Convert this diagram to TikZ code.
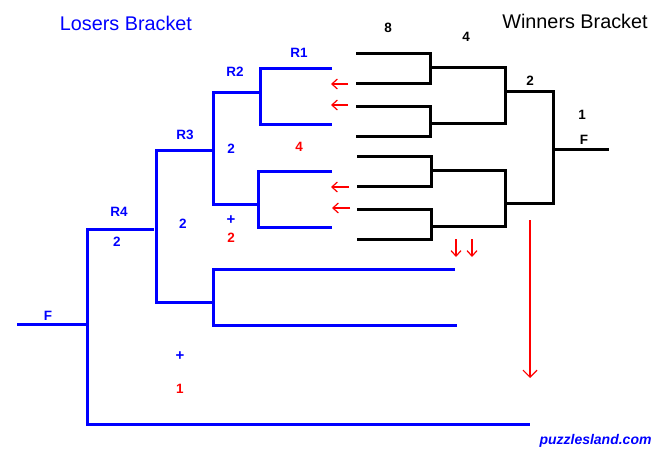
\documentclass[tikz,border=0pt]{standalone}
\usepackage{fontspec}
\setmainfont{Liberation Sans}
\usetikzlibrary{arrows.meta}
\tikzset{
  x=1pt,y=-1pt,
  win/.style={draw=black,line width=3pt,line cap=butt,line join=miter},
  los/.style={draw=blue,line width=3pt,line cap=butt,line join=miter},
  redarrow/.style={draw=red,line width=1.5pt,-{Straight Barb[length=5.5pt,width=10pt,line width=1.2pt]}},
  bigarrow/.style={draw=red,line width=1.5pt,-{Straight Barb[length=7pt,width=14pt,line width=1.2pt]}},
  lbl/.style={font=\bfseries\fontsize{13.5}{13.5}\selectfont,inner sep=0pt,text=#1,yshift=-0.7pt},
  lbl/.default=blue,
  plus/.style={font=\bfseries\fontsize{15}{15}\selectfont,inner sep=0pt,text=blue,yshift=-0.7pt},
  title/.style={font=\fontsize{19.8}{19.8}\selectfont,inner sep=0pt,text=#1},
}
\begin{document}
\begin{tikzpicture}
\useasboundingbox (0,0) rectangle (660,450);
% Winners bracket anchors
\coordinate (wa1) at (356,53);   \coordinate (wa2) at (356,83.5);
\coordinate (wb1) at (356,106);  \coordinate (wb2) at (356,136);
\coordinate (wc1) at (357,156);  \coordinate (wc2) at (357,186);
\coordinate (wd1) at (357,209);  \coordinate (wd2) at (357,239);
\coordinate (wq1) at (430,67);   \coordinate (wq2) at (430,123);
\coordinate (wq3) at (431,170);  \coordinate (wq4) at (431,226);
\coordinate (ws1) at (505,91);   \coordinate (ws2) at (505.5,203);
\coordinate (wf) at (553,149);   \coordinate (wend) at (609,149);
% Winners round of 8
\draw[win] (wa1) -| (wq1 |- wa2) -- (wa2);
\draw[win] (wb1) -| (wq2 |- wb2) -- (wb2);
\draw[win] (wc1) -| (wq3 |- wc2) -- (wc2);
\draw[win] (wd1) -| (wq4 |- wd2) -- (wd2);
% Winners round of 4
\draw[win] (wq1) -| (ws1 |- wq2) -- (wq2);
\draw[win] (wq3) -| (ws2 |- wq4) -- (wq4);
% Winners semi and final
\draw[win] (ws1) -| (wf |- ws2) -- (ws2);
\draw[win] (wf) -- (wend);
% Losers bracket anchors
\coordinate (la1) at (332,68.5);  \coordinate (la2) at (332,124.3);
\coordinate (lb1) at (332,171.5); \coordinate (lb2) at (332,227.5);
\coordinate (lj1) at (260,92);    \coordinate (lj2) at (258,204);
\coordinate (lk1) at (213,150.5); \coordinate (lk2) at (213,302);
\coordinate (lm) at (156.5,229);
\coordinate (lme) at (154,229);
\coordinate (lr4) at (87.5,229);
\coordinate (lc1) at (455,269.5); \coordinate (lc2) at (457,325.5);
\coordinate (lfin) at (17,324.5);  \coordinate (lfj) at (87.5,324.5);
\coordinate (lbot) at (530,424.5);
% Losers round 1
\draw[los] (la1) -| (lj1 |- la2) -- (la2);
\draw[los] (lb1) -| (lj2 |- lb2) -- (lb2);
% Losers round 2
\draw[los] (lj1) -| (lk1 |- lj2) -- (lj2);
\draw[los] (lc1) -| (lk2 |- lc2) -- (lc2);
% Losers round 3
\draw[los] (lk1) -| (lm |- lk2) -- (lk2);
% Losers round 4
\draw[los] (lme) -- (lr4) |- (lbot);
\draw[los] (lfin) -- (lfj);
% Red arrows
\coordinate (ra1s) at (348,84);  \coordinate (ra1e) at (331,84);
\coordinate (ra2s) at (348,105); \coordinate (ra2e) at (331,105);
\coordinate (ra3s) at (349,187); \coordinate (ra3e) at (331,187);
\coordinate (ra4s) at (350,208); \coordinate (ra4e) at (332,208);
\coordinate (rd1s) at (456,239); \coordinate (rd1e) at (456,257);
\coordinate (rd2s) at (472,239); \coordinate (rd2e) at (472,257);
\coordinate (rbs) at (530,220);  \coordinate (rbe) at (530,378);
\draw[redarrow] (ra1s) -- (ra1e);
\draw[redarrow] (ra2s) -- (ra2e);
\draw[redarrow] (ra3s) -- (ra3e);
\draw[redarrow] (ra4s) -- (ra4e);
\draw[redarrow] (rd1s) -- (rd1e);
\draw[redarrow] (rd2s) -- (rd2e);
\draw[bigarrow] (rbs) -- (rbe);
% Titles
\node[title=blue] (tlos) at (126,23) {Losers Bracket};
\node[title=black] (twin) at (575,21) {Winners Bracket};
% Winners labels
\node[lbl=black] (n8) at (388,27) {8};
\node[lbl=black] (n4) at (466,36) {4};
\node[lbl=black] (n2) at (530,80) {2};
\node[lbl=black] (n1) at (582,114) {1};
\node[lbl=black] (nf) at (584,139) {F};
% Losers labels
\node[lbl] (r1) at (299,52) {R1};
\node[lbl] (r2) at (235,71) {R2};
\node[lbl] (r3) at (185,134) {R3};
\node[lbl] (r4) at (119,211) {R4};
\node[lbl] (b2a) at (231,148) {2};
\node[lbl=red] (c4) at (299,146) {4};
\node[plus] (pa) at (231,219) {+};
\node[lbl=red] (c2) at (231,237) {2};
\node[lbl] (b2b) at (183,223) {2};
\node[lbl] (b2c) at (117,241) {2};
\node[lbl] (lf) at (48,315) {F};
\node[plus] (pb) at (180,355) {+};
\node[lbl=red] (c1) at (180,388) {1};
\node[inner sep=0pt,text=blue,font=\bfseries\itshape\fontsize{14}{14}\selectfont] (site) at (595.5,441) {puzzlesland.com};
\end{tikzpicture}
\end{document}
